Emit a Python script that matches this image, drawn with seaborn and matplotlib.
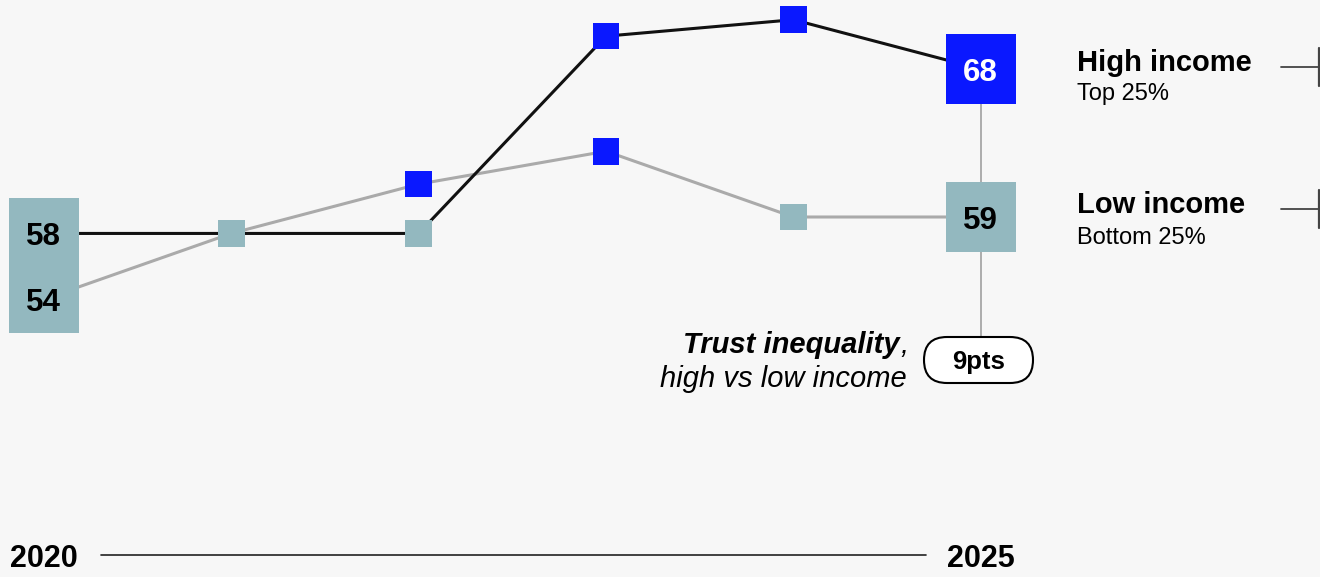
import matplotlib
matplotlib.use('Agg')
import matplotlib.pyplot as plt
import seaborn as sns
import pandas as pd
from matplotlib.patches import Rectangle, FancyBboxPatch

# Данные
years = [2020, 2021, 2022, 2023, 2024, 2025]
high_income = [58, 58, 58, 70, 71, 68]
low_income = [54, 58, 61, 63, 59, 59]
# цвет маркера по точкам: 'up' = синий, 'flat' = бирюзовый
high_flags = ['flat', 'flat', 'flat', 'up', 'up', 'up']
low_flags = ['flat', 'flat', 'up', 'up', 'flat', 'flat']
series_names = ['High income', 'Low income']
series_subtitles = ['Top 25%', 'Bottom 25%']
gap_label = '9pts'

BG = '#f7f7f7'
BLUE = '#0a18ff'
TEAL = '#93b8bf'
flag_colors = {'up': BLUE, 'flat': TEAL}
line_colors = {'High income': '#111111', 'Low income': '#aaaaaa'}

# Геометрия (пиксели)
W, H = 1320, 577
X0, XSTEP = 43.8, 187.4       # пиксель 2020 и шаг по годам
Y_REF, V_REF, YSTEP = 217, 59, 16.44   # пиксель значения 59, пикселей на единицу

def px_x(dx):
    return dx / XSTEP

def px_y(dy):
    return dy / YSTEP

df = pd.DataFrame({
    'year': years * 2,
    'value': high_income + low_income,
    'group': ['High income'] * len(years) + ['Low income'] * len(years),
    'flag': high_flags + low_flags,
})

sns.set_style('white')
plt.rcParams['font.family'] = ['Liberation Sans', 'DejaVu Sans']
plt.rcParams['text.color'] = 'black'

fig = plt.figure(figsize=(W / 100, H / 100), dpi=100)
fig.patch.set_facecolor(BG)
ax = fig.add_axes([0, 0, 1, 1])
ax.set_facecolor(BG)
ax.set_xlim(years[0] - px_x(X0), years[0] + px_x(W - X0))
ax.set_ylim(V_REF - px_y(H - Y_REF), V_REF + px_y(Y_REF))
ax.axis('off')

# Линии
for name in ['Low income', 'High income']:
    sns.lineplot(data=df[df['group'] == name], x='year', y='value',
                 color=line_colors[name], lw=2.2, ax=ax, zorder=2, legend=False)

# Вертикальная линия разрыва 2025
last = years[-1]
hi_last, lo_last = high_income[-1], low_income[-1]
ax.plot([last, last], [hi_last, V_REF - px_y(360 - Y_REF)], color='#999999', lw=1.1, zorder=1)

# Маркеры 2021-2024
mid = df[(df['year'] > years[0]) & (df['year'] < last)]
sns.scatterplot(data=mid, x='year', y='value', hue='flag', palette=flag_colors,
                marker='s', s=369, linewidth=0, ax=ax, zorder=3, legend=False)

# Большие квадраты 2025
end = df[df['year'] == last]
sns.scatterplot(data=end, x='year', y='value', hue='flag', palette=flag_colors,
                marker='s', s=2540, linewidth=0, ax=ax, zorder=4, legend=False)

# Блок 2020
first = years[0]
hi0, lo0 = high_income[0], low_income[0]
ax.add_patch(Rectangle((first - px_x(35), lo0 - px_y(33.5)), px_x(70),
                       (hi0 - lo0) + px_y(33.5 + 35.5), facecolor=TEAL, lw=0, zorder=4))

num_kw = dict(textcoords='offset pixels', ha='center', va='baseline',
              fontsize=22.5, fontweight='bold', zorder=5)
ax.annotate(f'{hi0}', (first, hi0), xytext=(0, -11.5), color='black', **num_kw)
ax.annotate(f'{lo0}', (first, lo0), xytext=(0, -11.5), color='black', **num_kw)
ax.annotate(f'{hi_last}', (last, hi_last), xytext=(0, -11.5), color='white', **num_kw)
ax.annotate(f'{lo_last}', (last, lo_last), xytext=(0, -11.5), color='black', **num_kw)

# Слой аннотаций в пикселях
ov = fig.add_axes([0, 0, 1, 1], facecolor='none')
ov.set_xlim(0, W)
ov.set_ylim(H, 0)
ov.axis('off')

# Подписи серий справа
for name, sub, yb, ys, yl in [(series_names[0], series_subtitles[0], 71, 100, 67),
                              (series_names[1], series_subtitles[1], 213, 244, 209)]:
    ov.text(1077, yb, name, fontsize=21, fontweight='bold', va='baseline', ha='left')
    ov.text(1077, ys, sub, fontsize=17, va='baseline', ha='left')
    ov.plot([1281, 1319], [yl, yl], color='#444444', lw=1.3)
    ov.plot([1319, 1319], [yl - 19, yl + 19], color='#444444', lw=1.6)

# Аннотация неравенства
ov.text(900, 353, 'Trust inequality', fontsize=21, fontweight='bold', style='italic',
        ha='right', va='baseline')
ov.text(900, 353, ',', fontsize=21, style='italic', ha='left', va='baseline')
ov.text(907, 387, 'high vs low income', fontsize=21, style='italic', ha='right', va='baseline')
ov.add_patch(FancyBboxPatch((924, 337), 109, 46, boxstyle='round,pad=0,rounding_size=23',
                            facecolor='white', edgecolor='black', lw=1.5))
ov.text(978.5, 369, gap_label, fontsize=18.5, fontweight='bold', ha='center', va='baseline')

# Ось времени
ov.text(43.8, 567, str(years[0]), fontsize=22, fontweight='bold', ha='center', va='baseline')
ov.text(981, 567, str(years[-1]), fontsize=22, fontweight='bold', ha='center', va='baseline')
ov.plot([101, 926], [555, 555], color='#222222', lw=1.2)

fig.savefig('out.png', dpi=100, facecolor=BG)
